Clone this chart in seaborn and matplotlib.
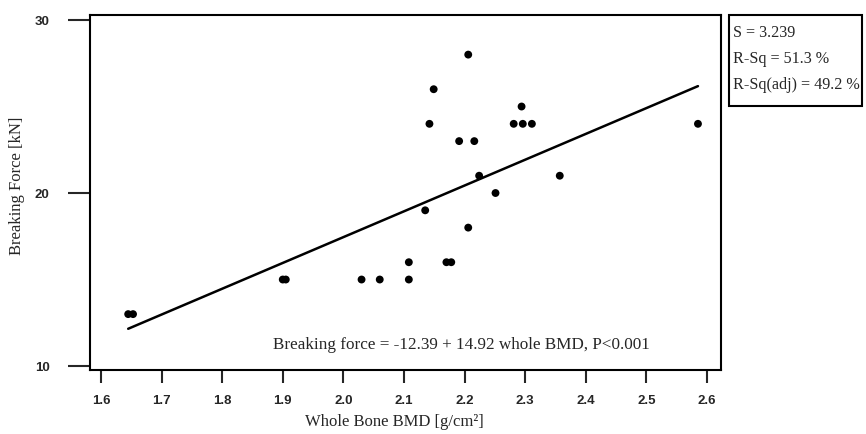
import numpy as np
import pandas as pd
import matplotlib
matplotlib.use('Agg')
import matplotlib.pyplot as plt
import seaborn as sns
from matplotlib.patches import Rectangle

# Whole bone BMD [g/cm2] vs breaking force [kN]
bmd = [1.645, 1.653, 1.900, 1.905, 2.030, 2.060, 2.108, 2.108, 2.170, 2.178,
       2.135, 2.206, 2.142, 2.149, 2.191, 2.216, 2.224, 2.251, 2.206, 2.294,
       2.281, 2.296, 2.311, 2.357, 2.585]
force = [13, 13, 15, 15, 15, 15, 15, 16, 16, 16,
         19, 18, 24, 26, 23, 23, 21, 20, 28, 25,
         24, 24, 24, 21, 24]

# fitted model reported on the chart
intercept = -12.39
slope = 14.92
stats_lines = ['S = 3.239', 'R-Sq = 51.3 %', 'R-Sq(adj) = 49.2 %']
equation = 'Breaking force = -12.39 + 14.92 whole BMD, P<0.001'

x_ticks = [1.6, 1.7, 1.8, 1.9, 2.0, 2.1, 2.2, 2.3, 2.4, 2.5, 2.6]
y_ticks = [10, 20, 30]

sns.set_style('white')
plt.rcParams['font.family'] = ['Liberation Serif', 'DejaVu Serif']

df = pd.DataFrame({'bmd': bmd, 'force': force})
fit = pd.DataFrame({'bmd': [min(bmd), max(bmd)]})
fit['force'] = intercept + slope * fit['bmd']

fig = plt.figure(figsize=(8.66, 4.34), dpi=100)
ax = fig.add_axes([90 / 866, 64 / 434, 631 / 866, 355 / 434])

sns.lineplot(data=fit, x='bmd', y='force', ax=ax, color='black', linewidth=1.8)
sns.scatterplot(data=df, x='bmd', y='force', ax=ax, color='black', s=32,
                edgecolor='none', zorder=3)

ax.set_xlim(1.582, 2.623)
ax.set_ylim(9.77, 30.29)
ax.set_xticks(x_ticks)
ax.set_yticks(y_ticks)
ax.set_xticklabels([f'{t:.1f}' for t in x_ticks])
ax.set_yticklabels([str(t) for t in y_ticks])

for lab in ax.get_xticklabels() + ax.get_yticklabels():
    lab.set_fontfamily(['Liberation Sans', 'DejaVu Sans'])
    lab.set_fontweight('bold')
    lab.set_fontsize(9.5)

ax.tick_params(axis='y', direction='out', length=16, width=1.5, pad=13, left=True)
ax.tick_params(axis='x', direction='out', length=9, width=1.5, pad=9, bottom=True)

for sp in ax.spines.values():
    sp.set_linewidth(1.5)
    sp.set_color('black')

ax.set_xlabel('Whole Bone BMD [g/cm²]', fontsize=12)
ax.set_ylabel('Breaking Force [kN]', fontsize=12)
ax.xaxis.set_label_coords(0.483, -0.125)
ax.yaxis.set_label_coords(-0.103, 0.52)

ax.text(0.588, 0.07, equation, transform=ax.transAxes, ha='center', va='center',
        fontsize=12.3)

# stats box outside the axes
fig.patches.append(Rectangle((729 / 866, 1 - 106 / 434), 133 / 866, 91 / 434,
                             transform=fig.transFigure, fill=False,
                             edgecolor='black', linewidth=1.5))
for i, line in enumerate(stats_lines):
    fig.text(733 / 866, 1 - (33 + 26 * i) / 434, line, ha='left', va='center',
             fontsize=11.6)

fig.savefig('out.png', dpi=100)
